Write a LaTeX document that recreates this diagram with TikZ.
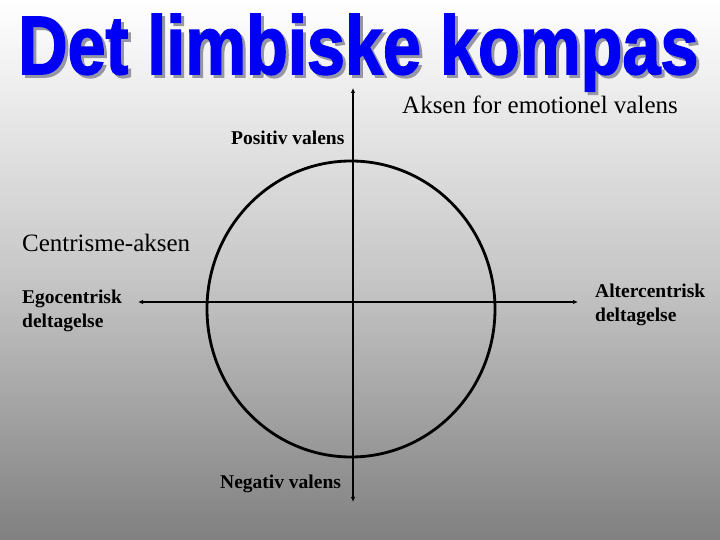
\documentclass[tikz,border=0pt]{standalone}
\usepackage{fontspec}
\setmainfont{Liberation Serif}
\newfontfamily\titlefont[FakeBold=2]{Liberation Sans Bold}
\usetikzlibrary{arrows.meta}
\definecolor{bgbottom}{RGB}{128,128,128}
\definecolor{titleblue}{RGB}{0,0,245}
\definecolor{shadowgray}{RGB}{150,150,165}
\tikzset{
  axisline/.style={line width=1.7pt, black, {Latex[length=5pt,width=4.5pt]}-{Latex[length=5pt,width=4.5pt]}},
  ringline/.style={line width=2.8pt, black},
  biglabel/.style={inner sep=0pt, font=\fontsize{25}{28}\selectfont, anchor=base west},
  smalllabel/.style={inner sep=0pt, font=\fontsize{19.5}{22}\selectfont\bfseries, anchor=base west},
  titletext/.style={inner sep=0pt, anchor=base west}
}
\newcommand{\titlebox}{\resizebox{680pt}{60pt}{\titlefont Det limbiske kompas}}
\begin{document}
\begin{tikzpicture}[x=1pt,y=1pt]
\useasboundingbox (0,0) rectangle (720,540);
\shade[top color=white, bottom color=bgbottom, middle color={rgb,255:red,200;green,200;blue,200}] (0,0) rectangle (720,540);
% title with shadow
\node[titletext, text=shadowgray] (titleshadow) at (21,463) {\titlebox};
\node[titletext, text=titleblue] (title) at (18,466) {\titlebox};
% axes
\coordinate (vtop) at (353,452);
\coordinate (vbot) at (353,38);
\coordinate (hleft) at (138,238);
\coordinate (hright) at (578,238);
\draw[ringline] (351,231) ellipse [x radius=144, y radius=148];
\draw[axisline] (vbot) -- (vtop);
\draw[axisline] (hleft) -- (hright);
% labels
\node[biglabel] (aksen) at (402,426) {Aksen for emotionel valens};
\node[smalllabel] (pos) at (231,395) {Positiv valens};
\node[biglabel] (centr) at (22,288) {Centrisme-aksen};
\node[smalllabel] (ego1) at (22,236) {Egocentrisk};
\node[smalllabel] (ego2) at (22,212) {deltagelse};
\node[smalllabel] (alt1) at (595,242) {Altercentrisk};
\node[smalllabel] (alt2) at (595,218) {deltagelse};
\node[smalllabel] (neg) at (220,51) {Negativ valens};
\end{tikzpicture}
\end{document}
